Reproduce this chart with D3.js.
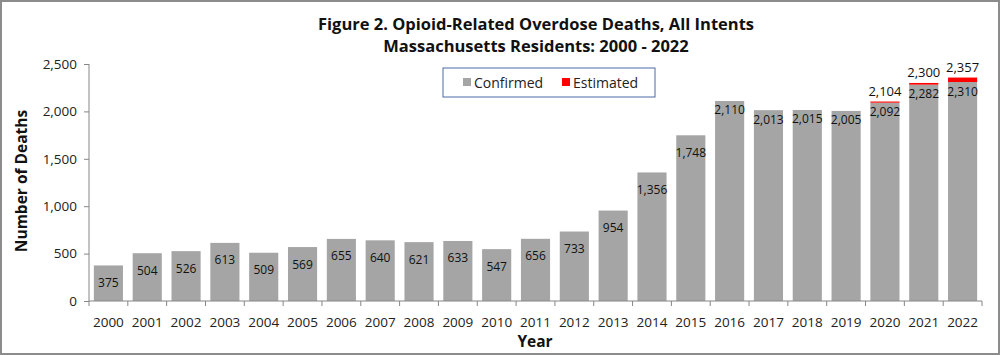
<!DOCTYPE html>
<html><head><meta charset="utf-8">
<script src="https://cdn.jsdelivr.net/npm/d3@7"></script>
<style>body{margin:0;background:#fff}svg{display:block;font-family:"Open Sans","Noto Sans",sans-serif}</style>
</head><body><svg id="c" width="1000" height="355"></svg>
<script>
const years = ["2000","2001","2002","2003","2004","2005","2006","2007","2008","2009","2010","2011","2012","2013","2014","2015","2016","2017","2018","2019","2020","2021","2022"];
const confirmed = [375,504,526,613,509,569,655,640,621,633,547,656,733,954,1356,1748,2110,2013,2015,2005,2092,2282,2310];
const estimated = [0,0,0,0,0,0,0,0,0,0,0,0,0,0,0,0,0,0,0,0,12,18,47];
const yTicks = [0,500,1000,1500,2000,2500];
const titleLines = ["Figure 2. Opioid-Related Overdose Deaths, All Intents","Massachusetts Residents: 2000 - 2022"];
const seriesNames = ["Confirmed","Estimated"];
const colors = ["#a5a5a5","#ff0000"];

const svg = d3.select("#c");
const fmt = d3.format(",");
const x = d3.scaleBand().domain(years).range([89,982]).paddingInner(0.25).paddingOuter(0.125);
const y = d3.scaleLinear().domain([0,2500]).range([301,64]);

svg.append("rect").attr("x",1).attr("y",1).attr("width",998).attr("height",353)
  .attr("fill","#fff").attr("stroke","#8c8c8c").attr("stroke-width",2);

// title
svg.append("g").selectAll("text").data(titleLines).join("text")
  .attr("x",536).attr("y",(d,i)=>30+i*22).attr("text-anchor","middle")
  .attr("font-weight","bold").attr("font-size",16.5).attr("fill","#111").text(d=>d);

// bars
const data = years.map((yr,i)=>({yr,c:confirmed[i],e:estimated[i]}));
svg.append("g").selectAll("rect").data(data).join("rect")
  .attr("x",d=>x(d.yr)).attr("width",x.bandwidth())
  .attr("y",d=>y(d.c)).attr("height",d=>y(0)-y(d.c)).attr("fill",colors[0]);
svg.append("g").selectAll("rect").data(data.filter(d=>d.e>0)).join("rect")
  .attr("x",d=>x(d.yr)).attr("width",x.bandwidth())
  .attr("y",d=>y(d.c+d.e)).attr("height",d=>y(d.c)-y(d.c+d.e)).attr("fill",colors[1]);

// value labels
svg.append("g").selectAll("text").data(data).join("text")
  .attr("x",d=>x(d.yr)+x.bandwidth()/2)
  .attr("y",d=>y(d.c)+(d.c>=1900?9:17)+4.5)
  .attr("text-anchor","middle").attr("font-size",12).attr("fill","#111")
  .text(d=>fmt(d.c));
svg.append("g").selectAll("text").data(data.filter(d=>d.e>0)).join("text")
  .attr("x",d=>x(d.yr)+x.bandwidth()/2)
  .attr("y",d=>y(d.c+d.e)-10+4.5)
  .attr("text-anchor","middle").attr("font-size",13).attr("fill","#111")
  .text(d=>fmt(d.c+d.e));

// y axis
const ya = svg.append("g").attr("transform","translate(89,0)")
  .call(d3.axisLeft(y).tickValues(yTicks).tickFormat(fmt).tickSize(5).tickPadding(7));
ya.select(".domain").attr("stroke","#868686").attr("d","M0,"+y(2500)+"V"+y(0));
ya.selectAll(".tick line").attr("stroke","#868686");
ya.selectAll(".tick text").attr("font-size",13.5).attr("fill","#222").attr("font-family","'Open Sans',sans-serif");

// x axis
const xg = svg.append("g");
xg.append("line").attr("x1",89).attr("x2",982).attr("y1",y(0)).attr("y2",y(0)).attr("stroke","#868686");
const bounds = years.map(d=>x(d)-x.step()*x.paddingInner()/2).concat([982]);
xg.selectAll("line.t").data(bounds).join("line").attr("class","t")
  .attr("x1",d=>d).attr("x2",d=>d).attr("y1",y(0)).attr("y2",y(0)+5).attr("stroke","#868686");
xg.selectAll("text").data(years).join("text")
  .attr("x",d=>x(d)+x.bandwidth()/2).attr("y",327).attr("text-anchor","middle")
  .attr("font-size",13.5).attr("fill","#222").text(d=>d);

// axis titles
svg.append("text").attr("x",535).attr("y",347).attr("text-anchor","middle")
  .attr("font-weight","bold").attr("font-size",15.5).attr("fill","#111").text("Year");
svg.append("text").attr("transform","translate(27,181) rotate(-90)").attr("text-anchor","middle")
  .attr("font-weight","bold").attr("font-size",15.5).attr("fill","#111").text("Number of Deaths");

// legend
const lg = svg.append("g");
lg.append("rect").attr("x",443).attr("y",68).attr("width",212).attr("height",29)
  .attr("fill","#fff").attr("stroke","#4a6aa5").attr("stroke-width",1);
const lx = [463,562];
seriesNames.forEach((n,i)=>{
  lg.append("rect").attr("x",lx[i]).attr("y",78).attr("width",8).attr("height",8).attr("fill",colors[i]);
  lg.append("text").attr("x",lx[i]+11).attr("y",87.5).attr("font-size",14).attr("fill","#222").text(n);
});
</script></body></html>
